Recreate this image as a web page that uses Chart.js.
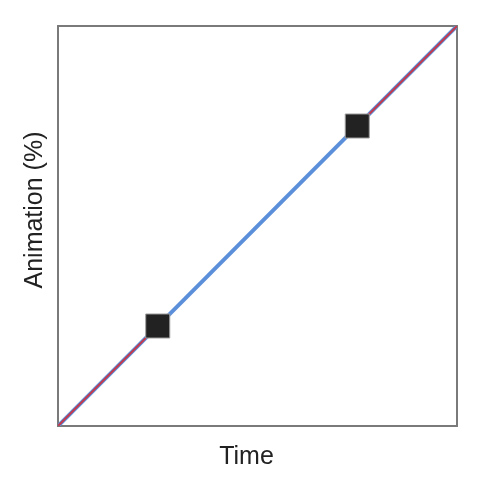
<!DOCTYPE html>
<html>
<head>
<meta charset="utf-8">
<script src="https://cdn.jsdelivr.net/npm/chart.js@4/dist/chart.umd.min.js"></script>
<style>
html,body{margin:0;padding:0;background:#fff;}
#wrap{width:480px;height:488px;}
</style>
</head>
<body>
<div id="wrap"><canvas id="c" width="480" height="488"></canvas></div>
<script>
// Full linear curve (time % -> animation %)
const lineTime = [0, 100];
const lineAnim = [0, 100];
// Outer (red) segments, null separates them
const edgeTime = [0, 25, null, 75, 100];
const edgeAnim = [0, 25, null, 75, 100];
// Square handles
const handleTime = [25, 75];
const handleAnim = [25, 75];
const xTitle = 'Time';
const yTitle = 'Animation (%)';

const toPts = (xs, ys) => xs.map((x, i) => (x === null ? {x: null, y: null} : {x: x, y: ys[i]}));

const FONT = "'Liberation Sans', Arial, Helvetica, sans-serif";
const border = {display: true, color: '#7a7a7a', width: 2};

// Shift axis titles slightly off-centre, as in the reference
const titleShift = {
  id: 'titleShift',
  beforeDraw(chart) {
    const shifts = {x: [-11, 0], y: [0, -16]};
    Object.keys(shifts).forEach(id => {
      const s = chart.scales[id];
      if (s && !s._shifted) {
        const orig = s.drawTitle;
        s.drawTitle = function () {
          this.ctx.save();
          this.ctx.translate(shifts[id][0], shifts[id][1]);
          orig.call(this);
          this.ctx.restore();
        };
        s._shifted = true;
      }
    });
  }
};

new Chart(document.getElementById('c'), {
  type: 'scatter',
  plugins: [titleShift],
  data: {
    datasets: [
      {
        data: toPts(lineTime, lineAnim),
        showLine: true, borderColor: '#5b8fd9', borderWidth: 4,
        pointRadius: 0, order: 3
      },
      {
        data: toPts(edgeTime, edgeAnim),
        showLine: true, spanGaps: false, borderColor: '#c23a4e', borderWidth: 2,
        pointRadius: 0, order: 2
      },
      {
        data: toPts(handleTime, handleAnim),
        showLine: false, pointStyle: 'rect', pointRadius: 17, pointHoverRadius: 17,
        backgroundColor: '#222222', borderColor: '#a0a0a0', borderWidth: 1, order: 1
      }
    ]
  },
  options: {
    responsive: false,
    animation: false,
    events: [],
    layout: {padding: {left: 0, right: 15, top: 18, bottom: 0}},
    plugins: {legend: {display: false}, tooltip: {enabled: false}},
    scales: {
      x: {
        type: 'linear', min: 0, max: 100, position: 'bottom',
        grid: {display: false}, ticks: {display: false}, border: border,
        title: {display: true, text: xTitle, color: '#222', font: {family: FONT, size: 25}, padding: {top: 8, bottom: 16}}
      },
      y: {
        type: 'linear', min: 0, max: 100, position: 'left',
        grid: {display: false}, ticks: {display: false}, border: border,
        title: {display: true, text: yTitle, color: '#222', font: {family: FONT, size: 25}, padding: {top: 20, bottom: 0}}
      },
      x2: {
        type: 'linear', min: 0, max: 100, position: 'top',
        grid: {display: false}, ticks: {display: false}, border: border
      },
      y2: {
        type: 'linear', min: 0, max: 100, position: 'right',
        grid: {display: false}, ticks: {display: false}, border: border
      }
    }
  }
});
</script>
</body>
</html>
